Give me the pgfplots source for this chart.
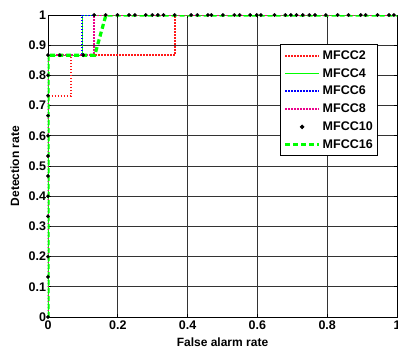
\documentclass[border=0pt]{standalone}
\usepackage{pgfplots}
\pgfplotsset{compat=1.18}
\usepackage{fontspec}
\setmainfont{Liberation Sans}
\usetikzlibrary{calc}
\definecolor{mgreen}{RGB}{0,255,0}
\begin{document}
\begin{tikzpicture}
\begin{axis}[
  scale only axis,
  width=349pt, height=302pt,
  xmin=0, xmax=1, ymin=0, ymax=1,
  xtick={0,0.2,0.4,0.6,0.8,1},
  ytick={0,0.1,0.2,0.3,0.4,0.5,0.6,0.7,0.8,0.9,1},
  /pgf/number format/assume math mode=true,
  tick label style={font=\fontsize{12.5}{14}\selectfont\bfseries},
  xticklabel style={yshift=-0.5pt},
  yticklabel style={xshift=1.5pt},
  grid=major,
  major grid style={black!80, line width=0.7pt},
  axis line style={black, line width=0.9pt},
  tick style={black, line width=0.7pt},
  tick align=inside,
  major tick length=3pt,
  xlabel={False alarm rate},
  ylabel={Detection rate},
  label style={font=\fontsize{12}{14}\selectfont\bfseries},
  xlabel style={at={(axis description cs:0.5,-0.083)}, anchor=center},
  ylabel style={at={(axis description cs:-0.095,0.5)}, anchor=center},
  legend style={at={(axis description cs:0.665,0.904)}, anchor=north west,
    draw=black, line width=0.9pt, fill=white,
    font=\fontsize{12.5}{14}\selectfont\bfseries,
    row sep=3.6pt, inner xsep=3pt, inner ysep=4pt},
  legend cell align=left,
  legend image code/.code={\draw[#1] (0pt,0pt) -- (34pt,0pt);},
]
% MFCC2
\addplot[color=red!90!white, line width=2pt, dash pattern=on 1.5pt off 1.5pt] coordinates {
(0,0) (0,0.733) (0.066,0.733) (0.066,0.867) (0.363,0.867) (0.363,1) (1,1)};
\addlegendentry{MFCC2}
% MFCC4
\addplot[color=mgreen, line width=1.3pt,
  legend image code/.code={\draw[mgreen, line width=1.3pt, solid] (0pt,0pt) -- (34pt,0pt);}] coordinates {
(0,0) (0,0.867) (0.098,0.867) (0.098,1) (1,1)};
\addlegendentry{MFCC4}
% MFCC6
\addplot[color=blue, line width=2pt, dash pattern=on 1.5pt off 1.5pt] coordinates {
(0,0) (0,0.867) (0.098,0.867) (0.098,1) (1,1)};
\addlegendentry{MFCC6}
% MFCC8
\addplot[color=magenta, line width=2pt, dash pattern=on 1.5pt off 1.5pt] coordinates {
(0,0) (0,0.867) (0.131,0.867) (0.131,1) (1,1)};
\addlegendentry{MFCC8}
% MFCC10
\addplot[only marks, mark=*, mark size=1.8pt, color=black, mark options={solid, line width=0.2pt},
  legend image code/.code={\fill[black] (17pt,0pt) circle (1.8pt);}] coordinates {
(0,0) (0,0.133) (0,0.2) (0,0.333) (0,0.4) (0,0.467) (0,0.533) (0,0.6) (0,0.667) (0,0.733) (0,0.8) (0,0.867)
(0.034,0.867) (0.101,0.867)
(0.132,1) (0.165,1) (0.199,1) (0.232,1) (0.249,1) (0.28,1) (0.299,1) (0.315,1) (0.331,1) (0.363,1)
(0.41,1) (0.428,1) (0.458,1) (0.468,1) (0.501,1) (0.534,1) (0.549,1) (0.579,1) (0.598,1) (0.61,1)
(0.649,1) (0.68,1) (0.696,1) (0.712,1) (0.73,1) (0.749,1) (0.765,1) (0.796,1) (0.83,1) (0.861,1)
(0.896,1) (0.91,1) (0.944,1) (0.977,1) (0.991,1)};
\addlegendentry{MFCC10}
% MFCC16
\addplot[color=mgreen, line width=3.2pt, dash pattern=on 5pt off 3pt] coordinates {
(0,0) (0,0.867) (0.134,0.867) (0.166,1) (1,1)};
\addlegendentry{MFCC16}
\end{axis}
\pgfresetboundingbox
\useasboundingbox ($(current axis.south west)+(-48pt,-32pt)$) rectangle ($(current axis.north east)+(1pt,15pt)$);
\end{tikzpicture}
\end{document}
